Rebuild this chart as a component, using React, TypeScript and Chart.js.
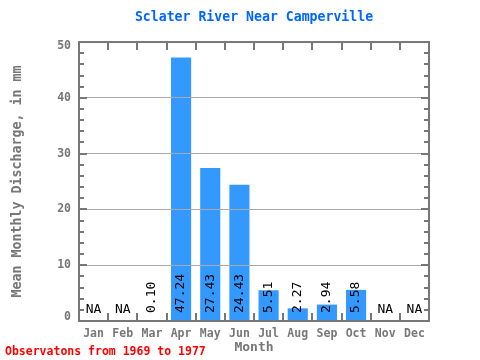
import React, { useEffect, useRef } from "react";
import { Chart, registerables } from "chart.js";

Chart.register(...registerables);

const months = ["Jan", "Feb", "Mar", "Apr", "May", "Jun", "Jul", "Aug", "Sep", "Oct", "Nov", "Dec"];
const discharge: (number | null)[] = [null, null, 0.1, 47.24, 27.43, 24.43, 5.51, 2.27, 2.94, 5.58, null, null];
const valueLabels = ["NA", "NA", "0.10", "47.24", "27.43", "24.43", "5.51", "2.27", "2.94", "5.58", "NA", "NA"];
const yTicks = [0, 10, 20, 30, 40, 50];

const TITLE = "Sclater River Near Camperville";
const Y_TITLE = "Mean Monthly Discharge, in mm";
const X_TITLE = "Month";
const FOOTER = "Observatons from 1969 to 1977";

const MONO = "'DejaVu Sans Mono', 'Liberation Mono', monospace";
const GRAY = "#777777";

const decorPlugin = {
  id: "decor",
  afterDatasetsDraw(chart: any) {
    const ctx = chart.ctx;
    const x = chart.scales.x;
    const y = chart.scales.y;
    const base = y.getPixelForValue(0);
    ctx.save();
    ctx.fillStyle = "#000000";
    ctx.font = `13px ${MONO}`;
    valueLabels.forEach((lab, i) => {
      const cx = x.getPixelForValue(i);
      if (discharge[i] === null) {
        ctx.textAlign = "center";
        ctx.textBaseline = "alphabetic";
        ctx.fillText(lab, cx, base - 8);
      } else {
        ctx.save();
        ctx.translate(cx, base - 8);
        ctx.rotate(-Math.PI / 2);
        ctx.textAlign = "left";
        ctx.textBaseline = "middle";
        ctx.fillText(lab, 0, 0);
        ctx.restore();
      }
    });
    ctx.restore();
  },
  afterDraw(chart: any) {
    const ctx = chart.ctx;
    const { left, right, top, bottom } = chart.chartArea;
    const y = chart.scales.y;
    ctx.save();
    ctx.strokeStyle = GRAY;
    ctx.lineWidth = 2;
    ctx.strokeRect(left, top, right - left, bottom - top);
    // x ticks at category boundaries
    const n = months.length;
    const w = (right - left) / n;
    ctx.beginPath();
    for (let i = 1; i < n; i++) {
      const px = Math.round(left + i * w);
      ctx.moveTo(px, top);
      ctx.lineTo(px, top + 8);
      ctx.moveTo(px, bottom);
      ctx.lineTo(px, bottom - 8);
    }
    // y ticks every 2 units
    for (let v = 2; v < 50; v += 2) {
      const py = Math.round(y.getPixelForValue(v));
      const len = v % 10 === 0 ? 8 : 5;
      ctx.moveTo(left, py);
      ctx.lineTo(left + len, py);
      ctx.moveTo(right, py);
      ctx.lineTo(right - len, py);
    }
    ctx.stroke();
    // y tick labels (extremes kept inside the frame)
    ctx.fillStyle = GRAY;
    ctx.font = `bold 11.5px ${MONO}`;
    ctx.textAlign = "right";
    ctx.textBaseline = "middle";
    yTicks.forEach((v) => {
      let py = y.getPixelForValue(v);
      if (v === y.min) py -= 4;
      if (v === y.max) py += 4;
      ctx.fillText(String(v), left - 8, py);
    });
    // footer
    ctx.fillStyle = "#ff0000";
    ctx.font = `bold 11.5px ${MONO}`;
    ctx.textAlign = "left";
    ctx.textBaseline = "middle";
    ctx.fillText(FOOTER, 5, 352);
    ctx.restore();
  },
};

export default function App() {
  const ref = useRef<HTMLCanvasElement | null>(null);
  useEffect(() => {
    if (!ref.current) return;
    const chart = new Chart(ref.current, {
      type: "bar",
      data: {
        labels: months,
        datasets: [
          {
            data: discharge,
            backgroundColor: "#3399ff",
            borderWidth: 0,
            categoryPercentage: 1,
            barPercentage: 0.69,
          },
        ],
      },
      options: {
        animation: false,
        responsive: false,
        layout: { padding: { left: 0, right: 51, top: 0, bottom: 0 } },
        plugins: {
          legend: { display: false },
          tooltip: { enabled: false },
          title: {
            display: true,
            text: TITLE,
            color: "#0066ff",
            fullSize: false,
            font: { family: MONO, size: 13.2, weight: "bold", lineHeight: 1.2 },
            padding: { top: 10, bottom: 16.2 },
          },
        },
        scales: {
          x: {
            afterFit: (s: any) => {
              s.height = 39;
            },
            grid: { display: false, drawTicks: false },
            border: { display: false },
            ticks: {
              color: GRAY,
              padding: 6,
              autoSkip: false,
              maxRotation: 0,
              font: { family: MONO, size: 11.5, weight: "bold" },
            },
            title: {
              display: true,
              text: X_TITLE,
              color: GRAY,
              font: { family: MONO, size: 13, weight: "bold", lineHeight: 1.2 },
              padding: { top: 0, bottom: 5 },
            },
          },
          y: {
            min: 0,
            max: 50,
            afterFit: (s: any) => {
              s.width = 79;
            },
            afterBuildTicks: (s: any) => {
              s.ticks = yTicks.map((v) => ({ value: v }));
            },
            grid: {
              z: 1,
              drawTicks: false,
              lineWidth: 1,
              color: (c: any) => (c.tick && (c.tick.value === 0 || c.tick.value === 50) ? "rgba(0,0,0,0)" : "#aaaaaa"),
            },
            border: { display: false },
            ticks: {
              display: false,
            },
            title: {
              display: true,
              text: Y_TITLE,
              color: GRAY,
              font: { family: MONO, size: 13.3, weight: "bold", lineHeight: 1.2 },
              padding: { top: 10, bottom: 0 },
            },
          },
        },
      },
      plugins: [decorPlugin],
    });
    return () => chart.destroy();
  }, []);
  return (
    <div style={{ position: "absolute", left: 0, top: 0, width: 480, height: 360, background: "#ffffff" }}>
      <canvas ref={ref} width={480} height={360} style={{ width: 480, height: 360 }} />
    </div>
  );
}
